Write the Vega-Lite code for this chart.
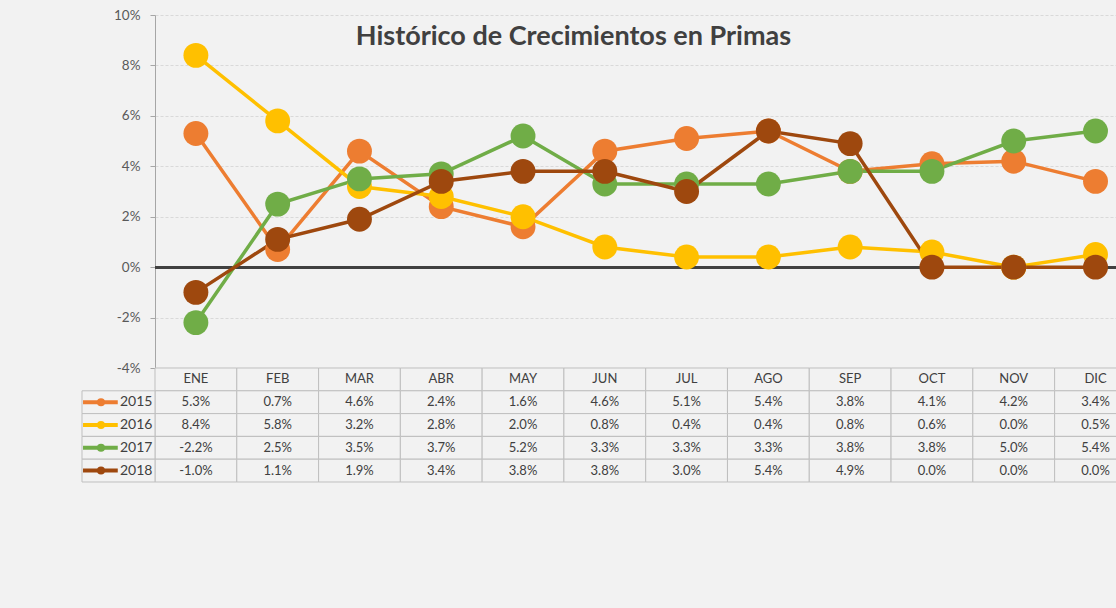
{
  "$schema": "https://vega.github.io/schema/vega-lite/v6.json",
  "autosize": {"type": "none"},
  "width": 961,
  "height": 467,
  "padding": {"left": 155, "top": 15, "right": 0, "bottom": 126},
  "background": "#f2f2f2",
  "config": {
    "locale": {"number": {"decimal": ".", "thousands": ",", "grouping": [3], "currency": ["$", ""], "minus": "-"}},
    "view": {"stroke": null},
    "font": "Lato"
  },
  "title": {
    "text": "Histórico de Crecimientos en Primas",
    "frame": "group",
    "anchor": "middle",
    "orient": "top",
    "offset": 0,
    "baseline": "alphabetic",
    "dy": 64,
    "dx": -62,
    "font": "Lato",
    "fontSize": 27,
    "fontWeight": "bold",
    "color": "#404040"
  },
  "datasets": {
    "d": [
      {"month": "ENE", "year": "2015", "value": 0.053},
      {"month": "FEB", "year": "2015", "value": 0.007},
      {"month": "MAR", "year": "2015", "value": 0.046},
      {"month": "ABR", "year": "2015", "value": 0.024},
      {"month": "MAY", "year": "2015", "value": 0.016},
      {"month": "JUN", "year": "2015", "value": 0.046},
      {"month": "JUL", "year": "2015", "value": 0.051},
      {"month": "AGO", "year": "2015", "value": 0.054},
      {"month": "SEP", "year": "2015", "value": 0.038},
      {"month": "OCT", "year": "2015", "value": 0.041},
      {"month": "NOV", "year": "2015", "value": 0.042},
      {"month": "DIC", "year": "2015", "value": 0.034},
      {"month": "ENE", "year": "2016", "value": 0.084},
      {"month": "FEB", "year": "2016", "value": 0.058},
      {"month": "MAR", "year": "2016", "value": 0.032},
      {"month": "ABR", "year": "2016", "value": 0.028},
      {"month": "MAY", "year": "2016", "value": 0.020},
      {"month": "JUN", "year": "2016", "value": 0.008},
      {"month": "JUL", "year": "2016", "value": 0.004},
      {"month": "AGO", "year": "2016", "value": 0.004},
      {"month": "SEP", "year": "2016", "value": 0.008},
      {"month": "OCT", "year": "2016", "value": 0.006},
      {"month": "NOV", "year": "2016", "value": 0.000},
      {"month": "DIC", "year": "2016", "value": 0.005},
      {"month": "ENE", "year": "2017", "value": -0.022},
      {"month": "FEB", "year": "2017", "value": 0.025},
      {"month": "MAR", "year": "2017", "value": 0.035},
      {"month": "ABR", "year": "2017", "value": 0.037},
      {"month": "MAY", "year": "2017", "value": 0.052},
      {"month": "JUN", "year": "2017", "value": 0.033},
      {"month": "JUL", "year": "2017", "value": 0.033},
      {"month": "AGO", "year": "2017", "value": 0.033},
      {"month": "SEP", "year": "2017", "value": 0.038},
      {"month": "OCT", "year": "2017", "value": 0.038},
      {"month": "NOV", "year": "2017", "value": 0.050},
      {"month": "DIC", "year": "2017", "value": 0.054},
      {"month": "ENE", "year": "2018", "value": -0.010},
      {"month": "FEB", "year": "2018", "value": 0.011},
      {"month": "MAR", "year": "2018", "value": 0.019},
      {"month": "ABR", "year": "2018", "value": 0.034},
      {"month": "MAY", "year": "2018", "value": 0.038},
      {"month": "JUN", "year": "2018", "value": 0.038},
      {"month": "JUL", "year": "2018", "value": 0.030},
      {"month": "AGO", "year": "2018", "value": 0.054},
      {"month": "SEP", "year": "2018", "value": 0.049},
      {"month": "OCT", "year": "2018", "value": 0.000},
      {"month": "NOV", "year": "2018", "value": 0.000},
      {"month": "DIC", "year": "2018", "value": 0.000}
    ]
  },
  "data": {"name": "d"},
  "layer": [
    {
      "layer": [
        {
          "mark": {"type": "rule", "color": "#404040", "strokeWidth": 2},
          "encoding": {
            "y": {"datum": 0, "type": "quantitative", "scale": {"domain": [-0.04, 0.1], "range": [353, 0], "nice": false, "zero": false}}
          }
        },
        {
          "mark": {"type": "line", "strokeWidth": 3.5},
          "encoding": {
            "x": {"field": "month", "type": "nominal", "sort": ["ENE","FEB","MAR","ABR","MAY","JUN","JUL","AGO","SEP","OCT","NOV","DIC"], "scale": {"domain": ["ENE","FEB","MAR","ABR","MAY","JUN","JUL","AGO","SEP","OCT","NOV","DIC"], "range": [0, 981.4], "paddingInner": 0, "paddingOuter": 0}, "axis": null},
            "y": {"field": "value", "type": "quantitative", "scale": {"domain": [-0.04, 0.1], "range": [353, 0], "nice": false, "zero": false},
              "axis": {"values": [-0.04, -0.02, 0, 0.02, 0.04, 0.06, 0.08, 0.1], "format": ".0%", "title": null, "grid": true, "gridColor": "#d9d9d9", "gridDash": [3, 2], "gridWidth": 1, "domainColor": "#a6a6a6", "tickColor": "#a6a6a6", "tickSize": 5, "labelPadding": 10, "labelColor": "#595959", "labelFontSize": 13.5, "labelFont": "Lato"}},
            "color": {"field": "year", "type": "nominal", "scale": {"domain": ["2015","2016","2017","2018"], "range": ["#ED7D31","#FFC000","#70AD47","#9E480E"]}, "legend": null}
          }
        },
        {
          "mark": {"type": "circle", "size": 620, "opacity": 1},
          "encoding": {
            "x": {"field": "month", "type": "nominal", "sort": ["ENE","FEB","MAR","ABR","MAY","JUN","JUL","AGO","SEP","OCT","NOV","DIC"], "axis": null},
            "y": {"field": "value", "type": "quantitative"},
            "color": {"field": "year", "type": "nominal", "legend": null}
          }
        }
      ]
    },
    {
      "encoding": {
        "x": {"field": "month", "type": "nominal", "sort": ["ENE","FEB","MAR","ABR","MAY","JUN","JUL","AGO","SEP","OCT","NOV","DIC"], "scale": {"domain": ["ENE","FEB","MAR","ABR","MAY","JUN","JUL","AGO","SEP","OCT","NOV","DIC"], "range": [0, 981.4], "paddingInner": 0, "paddingOuter": 0}, "axis": null}
      },
      "layer": [
        {
          "transform": [{"filter": "datum.year == '2015'"}],
          "mark": {"type": "rect", "fill": "#f2f2f2", "stroke": "#bfbfbf", "strokeWidth": 1},
          "encoding": {
            "y": {"datum": "hdr", "type": "nominal", "scale": {"domain": ["hdr","2015","2016","2017","2018"], "range": [353, 467], "paddingInner": 0, "paddingOuter": 0}, "axis": null}
          }
        },
        {
          "mark": {"type": "rect", "fill": "#f2f2f2", "stroke": "#bfbfbf", "strokeWidth": 1},
          "encoding": {
            "y": {"field": "year", "type": "nominal", "axis": null}
          }
        },
        {
          "transform": [{"filter": "datum.year == '2015'"}],
          "mark": {"type": "text", "font": "Lato", "fontSize": 13, "color": "#404040"},
          "encoding": {
            "y": {"datum": "hdr", "type": "nominal"},
            "text": {"field": "month"}
          }
        },
        {
          "mark": {"type": "text", "font": "Lato", "fontSize": 13, "color": "#404040"},
          "encoding": {
            "y": {"field": "year", "type": "nominal"},
            "text": {"field": "value", "format": ".1%"}
          }
        }
      ]
    },
    {
      "transform": [{"filter": "datum.month == 'ENE'"}],
      "layer": [
        {
          "mark": {"type": "rect", "fill": "#f2f2f2", "stroke": "#bfbfbf", "strokeWidth": 1},
          "encoding": {
            "x": {"datum": 0, "type": "quantitative", "scale": {"domain": [0, 1], "range": [-73, 0], "nice": false, "zero": false}, "axis": null},
            "x2": {"datum": 1},
            "y": {"field": "year", "type": "nominal", "scale": {"domain": ["hdr","2015","2016","2017","2018"], "range": [353, 467], "paddingInner": 0, "paddingOuter": 0}, "axis": null}
          }
        },
        {
          "mark": {"type": "rule", "strokeWidth": 4},
          "encoding": {
            "x": {"datum": 0.014, "type": "quantitative"},
            "x2": {"datum": 0.49},
            "y": {"field": "year", "type": "nominal"},
            "color": {"field": "year", "type": "nominal", "scale": {"domain": ["2015","2016","2017","2018"], "range": ["#ED7D31","#FFC000","#70AD47","#9E480E"]}, "legend": null}
          }
        },
        {
          "mark": {"type": "circle", "size": 64, "opacity": 1},
          "encoding": {
            "x": {"datum": 0.26, "type": "quantitative"},
            "y": {"field": "year", "type": "nominal"},
            "color": {"field": "year", "type": "nominal", "legend": null}
          }
        },
        {
          "mark": {"type": "text", "align": "left", "font": "Lato", "fontSize": 14, "color": "#404040"},
          "encoding": {
            "x": {"datum": 0.52, "type": "quantitative"},
            "y": {"field": "year", "type": "nominal"},
            "text": {"field": "year"}
          }
        }
      ]
    }
  ],
  "resolve": {"scale": {"x": "independent", "y": "independent"}}
}
